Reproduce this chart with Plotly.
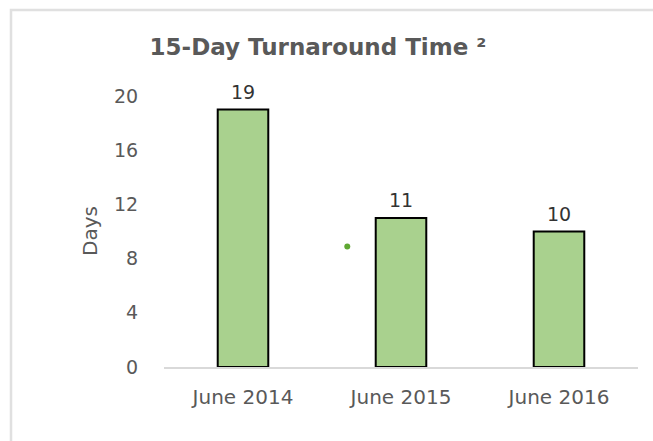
import plotly.graph_objects as go

categories = ["June 2014", "June 2015", "June 2016"]
days = [19, 11, 10]
y_ticks = [0, 4, 8, 12, 16, 20]
stray_x = [0.66]
stray_y = [8.9]

W, H = 653, 441
L, R, T, B = 164, 15, 96, 74
PW = W - L - R
PH = H - T - B
FONT = "DejaVu Sans"

fig = go.Figure()
fig.add_trace(go.Bar(
    x=list(range(len(categories))), y=days, width=0.32,
    marker=dict(color="#a9d18e", line=dict(color="#000000", width=2)),
    showlegend=False, hoverinfo="skip",
))
fig.add_trace(go.Scatter(
    x=stray_x, y=stray_y, mode="markers",
    marker=dict(color="#5fa833", size=6), showlegend=False, hoverinfo="skip",
))

annotations = [dict(text="Days", xref="paper", yref="paper",
                    x=(90 - L) / PW, y=(H - B - 231) / PH, xanchor="center", yanchor="middle",
                    textangle=-90, showarrow=False,
                    font=dict(family=FONT, size=20, color="#595959"))]
for i, v in enumerate(days):
    annotations.append(dict(text=str(v), x=i, y=v, xref="x", yref="y",
                            xanchor="center", yanchor="bottom", yshift=5, showarrow=False,
                            font=dict(family=FONT, size=19, color="#333333")))

fig.update_layout(
    width=W, height=H, margin=dict(l=L, r=R, t=T, b=B),
    paper_bgcolor="white", plot_bgcolor="white",
    title=dict(text="<b>15-Day Turnaround Time ²</b>", x=318 / W, xanchor="center",
               y=1 - 47 / H, yanchor="middle",
               font=dict(family=FONT, size=23, color="#595959")),
    xaxis=dict(range=[-0.5, 2.5], tickvals=list(range(len(categories))), ticktext=categories,
               showgrid=False, zeroline=False, showline=True, linecolor="#d9d9d9", linewidth=2,
               ticks="outside", ticklen=11, tickcolor="rgba(0,0,0,0)",
               tickfont=dict(family=FONT, size=20, color="#595959"),
               fixedrange=True),
    yaxis=dict(range=[0, 20], tickvals=y_ticks, showgrid=False, zeroline=False, showline=False,
               ticks="outside", ticklen=21, tickcolor="rgba(0,0,0,0)",
               tickfont=dict(family=FONT, size=19, color="#595959"),
               fixedrange=True),
    annotations=annotations,
    shapes=[dict(type="rect", xref="paper", yref="paper",
                 x0=-(L - 11) / PW, x1=1.2, y0=-0.5, y1=1 + (T - 10) / PH,
                 line=dict(color="#e0e0e0", width=2.5), fillcolor="rgba(0,0,0,0)", layer="below")],
)

fig.write_html("out.html", config={"displayModeBar": False},
               post_script="document.body.style.margin='0';document.body.style.padding='0';")
